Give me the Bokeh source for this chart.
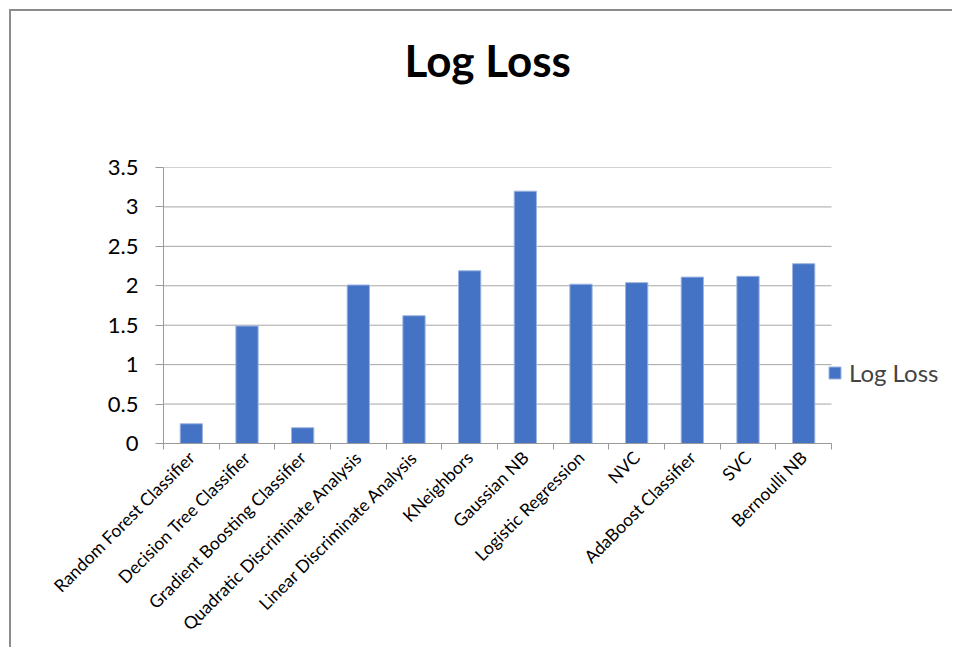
from math import pi
from bokeh.plotting import figure
from bokeh.models import (Range1d, FixedTicker, LinearAxis, Legend, LegendItem,
                          ColumnDataSource, Title)
from bokeh.embed import file_html
from bokeh.resources import INLINE

categories = ["Random Forest Classifier", "Decision Tree Classifier",
              "Gradient Boosting Classifier", "Quadratic Discriminate Analysis",
              "Linear Discriminate Analysis", "KNeighbors", "Gaussian NB",
              "Logistic Regression", "NVC", "AdaBoost Classifier", "SVC",
              "Bernoulli NB"]
log_loss = [0.25, 1.49, 0.20, 2.01, 1.62, 2.19, 3.20, 2.02, 2.04, 2.11, 2.12, 2.28]
y_ticks = [0, 0.5, 1, 1.5, 2, 2.5, 3, 3.5]
y_tick_labels = ["0", "0.5", "1", "1.5", "2", "2.5", "3", "3.5"]
series_name = "Log Loss"
title_text = "Log Loss"

FONT = "Lato"
BLUE = "#4472C4"
GRID = "#A6A6A6"
AXIS = "#9A9A9A"

n = len(categories)
centers = [i + 0.5 for i in range(n)]
bounds = [i for i in range(n + 1)]

# layout (canvas pixels)
W, H = 943, 638
LEFT, TOP, BOTTOM = 152, 156, 206
PLOT_RIGHT = 820          # where the category area ends
frame_w = W - LEFT
x_end = n * frame_w / (PLOT_RIGHT - LEFT)

p = figure(width=W, height=H, output_backend="svg", toolbar_location=None,
           x_range=Range1d(0, x_end), y_range=Range1d(0, 3.5),
           x_axis_type=None, y_axis_type=None,
           min_border_left=LEFT, min_border_right=0,
           min_border_top=TOP, min_border_bottom=BOTTOM,
           styles={"margin-left": "9px", "margin-top": "9px",
                   "border-left": "2px solid #8C8C8C",
                   "border-top": "2px solid #8C8C8C"})
p.outline_line_color = None
p.background_fill_color = "white"
p.border_fill_color = "white"

# horizontal gridlines only across the category area
p.segment(x0=[0] * len(y_ticks), x1=[n] * len(y_ticks), y0=y_ticks, y1=y_ticks,
          line_color=GRID, line_width=1)

src = ColumnDataSource(dict(x=centers, top=log_loss, cat=categories))
r = p.vbar(x="x", top="top", width=0.4, source=src, fill_color=BLUE,
           line_color="#9DB4E0", line_width=1)

# axes
yaxis = LinearAxis(ticker=FixedTicker(ticks=y_ticks, minor_ticks=[]))
yaxis.major_label_overrides = {t: l for t, l in zip(y_ticks, y_tick_labels)}
yaxis.axis_line_color = AXIS
yaxis.major_tick_line_color = AXIS
yaxis.major_tick_out = 8
yaxis.major_tick_in = 0
yaxis.minor_tick_line_color = None
yaxis.major_label_text_font = FONT
yaxis.major_label_text_font_size = "22px"
yaxis.major_label_text_color = "black"
yaxis.major_label_standoff = 17
p.add_layout(yaxis, "left")

xaxis = LinearAxis(ticker=FixedTicker(ticks=centers, minor_ticks=bounds),
                   bounds=(0, n))
xaxis.major_label_overrides = {c: l for c, l in zip(centers, categories)}
xaxis.axis_line_color = AXIS
xaxis.major_tick_line_color = None
xaxis.minor_tick_line_color = AXIS
xaxis.minor_tick_out = 6
xaxis.minor_tick_in = 0
xaxis.major_label_orientation = pi / 4
xaxis.major_label_text_font = FONT
xaxis.major_label_text_font_size = "17.5px"
xaxis.major_label_text_color = "black"
xaxis.major_label_standoff = 5
p.add_layout(xaxis, "below")

p.xgrid.grid_line_color = None
p.ygrid.grid_line_color = None

# chart title
p.title.text = title_text
p.title.text_font = FONT
p.title.text_font_size = "44px"
p.title.text_font_style = "bold"
p.title.text_color = "black"
p.title.align = "left"
p.title.offset = 241
p.title.standoff = 0

# blank spacer between title and plot area
spacer = Title(text=" ", text_font_size="10px", standoff=69)
p.add_layout(spacer, "above")

legend = Legend(items=[LegendItem(label=series_name, renderers=[r])],
                location=(664, 56), orientation="vertical",
                glyph_width=15, glyph_height=15, label_standoff=7,
                label_text_font=FONT, label_text_font_size="24px",
                padding=0, margin=0, border_line_color=None,
                background_fill_alpha=0)
p.add_layout(legend, "center")

open("out.html", "w").write(file_html(p, INLINE))
